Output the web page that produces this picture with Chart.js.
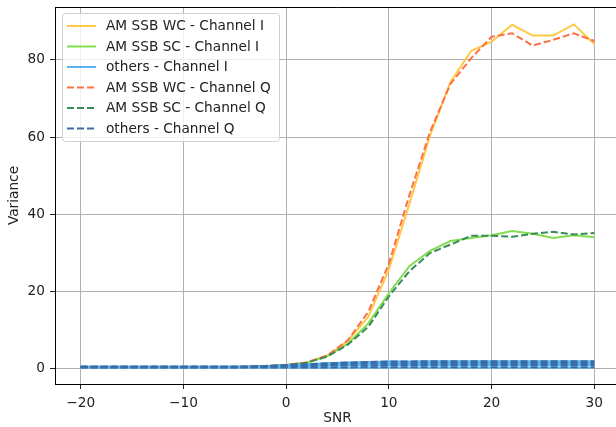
<!DOCTYPE html>
<html>
<head>
<meta charset="utf-8">
<script src="https://cdn.jsdelivr.net/npm/chart.js@4"></script>
<style>
  html, body { margin: 0; padding: 0; background: #fff; overflow: hidden; }
  #wrap { position: relative; width: 620px; height: 427px; }
</style>
</head>
<body>
<div id="wrap"><canvas id="chart"></canvas></div>
<script>
// SNR values (x axis)
const snr = [-20, -18, -16, -14, -12, -10, -8, -6, -4, -2, 0, 2, 4, 6, 8, 10, 12, 14, 16, 18, 20, 22, 24, 26, 28, 30];

// AM SSB WC / SC
const wcI = [0.5, 0.5, 0.5, 0.5, 0.5, 0.5, 0.5, 0.5, 0.5, 0.7, 1.0, 1.7, 3.4, 7.2, 13.5, 25.8, 42.7, 60.4, 74.3, 82.3, 84.7, 89.1, 86.3, 86.3, 89.2, 84.1];
const scI = [0.5, 0.5, 0.5, 0.5, 0.5, 0.5, 0.5, 0.5, 0.5, 0.7, 1.0, 1.6, 3.3, 6.5, 11.8, 19.6, 26.6, 30.6, 33.1, 33.9, 34.6, 35.7, 35.0, 33.9, 34.6, 34.1];
const wcQ = [0.5, 0.5, 0.5, 0.5, 0.5, 0.5, 0.5, 0.5, 0.5, 0.7, 1.0, 1.7, 3.5, 7.4, 14.8, 27.2, 45.0, 61.3, 73.8, 80.4, 86.0, 86.9, 83.7, 85.2, 86.9, 84.9];
const scQ = [0.5, 0.5, 0.5, 0.5, 0.5, 0.5, 0.5, 0.5, 0.5, 0.7, 1.0, 1.6, 3.2, 6.3, 10.9, 18.8, 25.3, 30.0, 32.2, 34.5, 34.5, 34.2, 35.0, 35.5, 34.8, 35.2];

// the "others" modulations (band near zero)
const othersI1 = [0.35, 0.35, 0.35, 0.35, 0.35, 0.35, 0.35, 0.35, 0.35, 0.36, 0.37, 0.38, 0.39, 0.4, 0.4, 0.4, 0.4, 0.4, 0.4, 0.4, 0.4, 0.4, 0.4, 0.4, 0.4, 0.4];
const othersI2 = [0.45, 0.45, 0.45, 0.45, 0.45, 0.45, 0.45, 0.45, 0.48, 0.56, 0.66, 0.76, 0.86, 0.93, 0.98, 1.0, 1.01, 1.01, 1.01, 1.01, 1.01, 1.01, 1.01, 1.01, 1.01, 1.01];
const othersI3 = [0.5, 0.5, 0.5, 0.5, 0.5, 0.5, 0.5, 0.5, 0.54, 0.66, 0.84, 1.02, 1.2, 1.34, 1.44, 1.5, 1.52, 1.53, 1.53, 1.53, 1.53, 1.53, 1.53, 1.53, 1.53, 1.53];
const othersI4 = [0.6, 0.6, 0.6, 0.6, 0.6, 0.6, 0.6, 0.6, 0.63, 0.78, 1.0, 1.22, 1.45, 1.65, 1.8, 1.9, 1.94, 1.96, 1.96, 1.96, 1.96, 1.96, 1.96, 1.96, 1.96, 1.96];
const othersQ1 = [0.35, 0.35, 0.35, 0.35, 0.35, 0.35, 0.35, 0.35, 0.35, 0.36, 0.38, 0.39, 0.4, 0.4, 0.41, 0.41, 0.41, 0.41, 0.41, 0.41, 0.41, 0.41, 0.41, 0.41, 0.41, 0.41];
const othersQ2 = [0.45, 0.45, 0.45, 0.45, 0.45, 0.45, 0.45, 0.45, 0.47, 0.55, 0.65, 0.75, 0.85, 0.92, 0.97, 0.99, 1.0, 1.0, 1.0, 1.0, 1.0, 1.0, 1.0, 1.0, 1.0, 1.0];
const othersQ3 = [0.5, 0.5, 0.5, 0.5, 0.5, 0.5, 0.5, 0.5, 0.55, 0.67, 0.85, 1.03, 1.21, 1.35, 1.45, 1.51, 1.53, 1.54, 1.54, 1.54, 1.54, 1.54, 1.54, 1.54, 1.54, 1.54];
const othersQ4 = [0.6, 0.6, 0.6, 0.6, 0.6, 0.6, 0.6, 0.6, 0.64, 0.79, 1.01, 1.23, 1.46, 1.66, 1.81, 1.91, 1.95, 1.97, 1.97, 1.97, 1.97, 1.97, 1.97, 1.97, 1.97, 1.97];

const xTicks = [-20, -10, 0, 10, 20, 30];
const yTicks = [0, 20, 40, 60, 80];

const FONT = "'DejaVu Sans', sans-serif";
const FSIZE = 13.7;
const DASH = [7, 3];

function series(label, values, color, dashed, inLegend) {
    return {
        label: label,
        data: values.map((v, i) => ({ x: snr[i], y: v })),
        borderColor: color,
        backgroundColor: color,
        borderWidth: 2,
        borderDash: dashed ? DASH : [],
        pointRadius: 0,
        tension: 0,
        fill: false,
        showInLegend: inLegend
    };
}

const datasets = [
    series("AM SSB WC - Channel I", wcI, "#ffc845", false, true),
    series("AM SSB SC - Channel I", scI, "#80de50", false, true),
    series("others - Channel I", othersI1, "#5ab4ee", false, true),
    series("others - Channel I", othersI2, "#5ab4ee", false, false),
    series("others - Channel I", othersI3, "#5ab4ee", false, false),
    series("others - Channel I", othersI4, "#5ab4ee", false, false),
    series("AM SSB WC - Channel Q", wcQ, "#ff7043", true, true),
    series("AM SSB SC - Channel Q", scQ, "#3a8a5a", true, true),
    series("others - Channel Q", othersQ1, "#3a6ca8", true, true),
    series("others - Channel Q", othersQ2, "#3a6ca8", true, false),
    series("others - Channel Q", othersQ3, "#3a6ca8", true, false),
    series("others - Channel Q", othersQ4, "#3a6ca8", true, false)
];
// later datasets on top, like matplotlib
datasets.forEach((d, i) => { d.order = datasets.length - i; });

// top and right spines + legend box
const extras = {
    id: "extras",
    afterDraw(chart) {
        const ctx = chart.ctx;
        const a = chart.chartArea;
        ctx.save();
        ctx.strokeStyle = "#000";
        ctx.lineWidth = 1;
        ctx.beginPath();
        ctx.moveTo(a.left, a.top + 0.5);
        ctx.lineTo(a.right, a.top + 0.5);
        ctx.moveTo(a.right - 0.5, a.top);
        ctx.lineTo(a.right - 0.5, a.bottom);
        ctx.stroke();

        // legend
        const items = chart.data.datasets.filter(d => d.showInLegend);
        const bx = 62.5, by = 13.5, bw = 217, bh = 128, r = 3;
        ctx.fillStyle = "rgba(255,255,255,0.8)";
        ctx.strokeStyle = "#d0d0d0";
        ctx.beginPath();
        ctx.roundRect(bx, by, bw, bh, r);
        ctx.fill();
        ctx.stroke();
        ctx.font = FSIZE + "px " + FONT;
        ctx.textBaseline = "middle";
        items.forEach((d, i) => {
            const y = 26 + i * 20.5;
            ctx.strokeStyle = d.borderColor;
            ctx.lineWidth = 2;
            ctx.setLineDash(d.borderDash);
            ctx.beginPath();
            ctx.moveTo(67, y);
            ctx.lineTo(96, y);
            ctx.stroke();
            ctx.setLineDash([]);
            ctx.fillStyle = "#222";
            ctx.fillText(d.label, 106, y + 0.5);
        });
        ctx.restore();
    }
};

const minus = v => String(v).replace("-", "\u2212");

new Chart(document.getElementById("chart"), {
    type: "line",
    data: { datasets: datasets },
    options: {
        responsive: true,
        maintainAspectRatio: false,
        animation: false,
        layout: { padding: { left: 0, top: 7, right: 0, bottom: 0 } },
        plugins: {
            legend: { display: false },
            tooltip: { enabled: false }
        },
        scales: {
            x: {
                type: "linear",
                min: -22.5,
                max: 32.5,
                afterBuildTicks: scale => { scale.ticks = xTicks.map(v => ({ value: v })); },
                afterFit: scale => {
                    scale.height = 43;
                    scale.paddingLeft = 0;
                    scale.paddingRight = 0;
                },
                ticks: {
                    callback: v => minus(v),
                    font: { family: FONT, size: FSIZE },
                    color: "#222",
                    padding: 6,
                    maxRotation: 0
                },
                grid: { color: "#b0b0b0", lineWidth: 1, tickLength: 5, tickColor: "#222" },
                border: { color: "#000", width: 1 },
                title: {
                    display: true,
                    text: "SNR",
                    font: { family: FONT, size: FSIZE },
                    color: "#222",
                    padding: { top: 0, bottom: 0 }
                }
            },
            y: {
                type: "linear",
                min: -3.9,
                max: 93.7,
                afterBuildTicks: scale => { scale.ticks = yTicks.map(v => ({ value: v })); },
                afterFit: scale => {
                    scale.width = 55;
                    scale.paddingTop = 0;
                    scale.paddingBottom = 0;
                },
                ticks: {
                    callback: v => minus(v),
                    font: { family: FONT, size: FSIZE },
                    color: "#222",
                    padding: 5
                },
                grid: { color: "#b0b0b0", lineWidth: 1, tickLength: 5, tickColor: "#222" },
                border: { color: "#000", width: 1 },
                title: {
                    display: true,
                    text: "Variance",
                    font: { family: FONT, size: FSIZE },
                    color: "#222",
                    padding: { top: 6, bottom: 0 }
                }
            }
        }
    },
    plugins: [extras]
});
</script>
</body>
</html>
